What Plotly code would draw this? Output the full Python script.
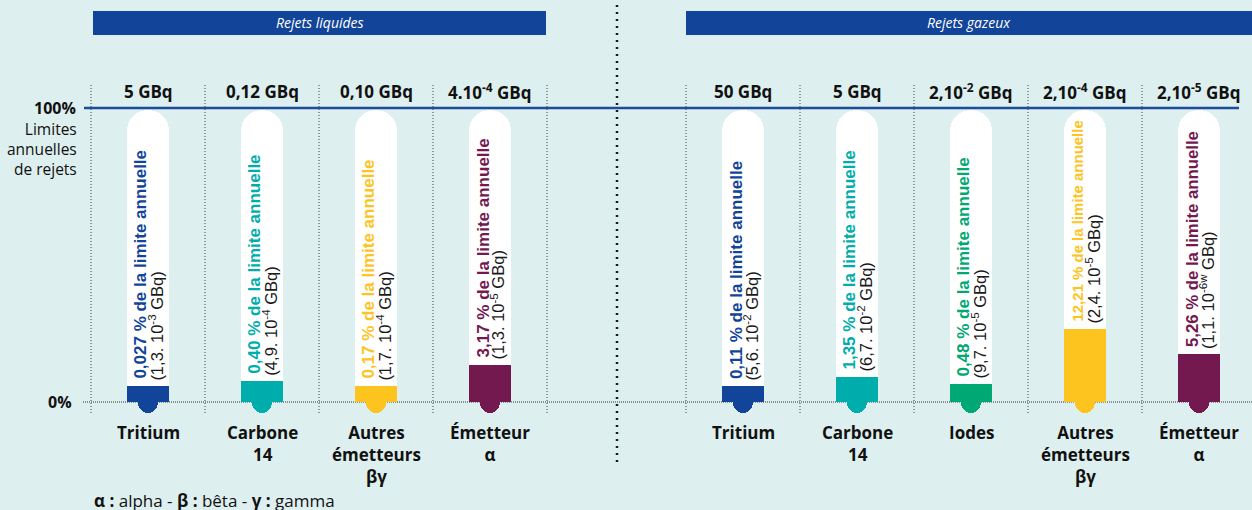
import plotly.graph_objects as go

# ---------------- data ----------------
liq_categories = ["Tritium", "Carbone<br>14", "Autres<br>émetteurs<br>βγ", "Émetteur<br>α"]
liq_limits = ["5 GBq", "0,12 GBq", "0,10 GBq", "4.10<sup>-4</sup> GBq"]
liq_percent = ["0,027", "0,40", "0,17", "3,17"]
liq_amount = ["1,3. 10<sup>-3</sup>", "4,9. 10<sup>-4</sup>", "1,7. 10<sup>-4</sup>", "1,3. 10<sup>-5</sup>"]
liq_fill = [5.4, 7.1, 5.4, 12.6]          # visual gauge level (% of the 0-100 scale)
liq_colors = ["#12449a", "#00adad", "#fdc41f", "#741850"]

gas_categories = ["Tritium", "Carbone<br>14", "Iodes", "Autres<br>émetteurs<br>βγ", "Émetteur<br>α"]
gas_limits = ["50 GBq", "5 GBq", "2,10<sup>-2</sup> GBq", "2,10<sup>-4</sup> GBq", "2,10<sup>-5</sup> GBq"]
gas_percent = ["0,11", "1,35", "0,48", "12,21", "5,26"]
gas_amount = ["5,6. 10<sup>-2</sup>", "6,7. 10<sup>-2</sup>", "9,7. 10<sup>-5</sup>",
              "2,4. 10<sup>-5</sup>", "1,1. 10<sup>-6w</sup>"]
gas_fill = [5.4, 8.5, 6.1, 24.8, 16.3]
gas_colors = ["#12449a", "#00adad", "#00a873", "#fdc41f", "#741850"]

group_titles = ["Rejets liquides", "Rejets gazeux"]
left_caption = ["Limites", "annuelles", "de rejets"]

# ---------------- layout geometry ----------------
W, H = 1252, 510
Y0_PX, Y100_PX = 402, 108
SCALE = (Y0_PX - Y100_PX) / 100.0
Y_RANGE = [(Y0_PX - H) / SCALE, Y0_PX / SCALE]
COL_W = 114
LIQ_X0, GAS_X0 = 91, 686
TUBE_W, STUB_W = 42, 20
TUBE_LEVEL = 99.3
STUB_LEVEL = -11 / SCALE
TEXT_GAP = 5            # px between fill top and rotated text
TEXT_TOP_PX = 116       # rotated text must stay below this
BOLD_MAX = 17
BOLD_PX_PER_SIZE = 13.9  # rendered length / font size for the bold label
BG = "#ddefee"
LABEL_FONT = "'Open Sans', Lato, sans-serif"
TUBE_FONT = "'Liberation Sans', Arial, sans-serif"
INK = "#111111"


def py(p):
    return 1 - p / H


liq_x = [LIQ_X0 + COL_W * (i + 0.5) for i in range(len(liq_categories))]
gas_x = [GAS_X0 + COL_W * (i + 0.5) for i in range(len(gas_categories))]

xs = liq_x + gas_x
fills = liq_fill + gas_fill
colors = liq_colors + gas_colors
cats = liq_categories + gas_categories
limits = liq_limits + gas_limits
pcts = liq_percent + gas_percent
amts = liq_amount + gas_amount
n = len(xs)

fig = go.Figure()
fig.add_bar(x=xs, y=[TUBE_LEVEL] * n, width=TUBE_W, hoverinfo="skip",
            marker=dict(color="white", cornerradius=TUBE_W / 2, line_width=0))
fig.add_bar(x=xs, y=fills, width=TUBE_W, hoverinfo="skip",
            marker=dict(color=colors, line_width=0))
fig.add_bar(x=xs, y=[STUB_LEVEL] * n, width=STUB_W, hoverinfo="skip",
            marker=dict(color=colors, cornerradius=STUB_W / 2, line_width=0))

ann = []
shapes = []

for i in range(n):
    x = xs[i]
    bottom_px = Y0_PX - fills[i] * SCALE - TEXT_GAP
    bold_size = min(BOLD_MAX, (bottom_px - TEXT_TOP_PX) / BOLD_PX_PER_SIZE)
    ann.append(dict(x=x - 7, y=fills[i], xref="x", yref="y", yshift=TEXT_GAP, showarrow=False,
                    textangle=-90, xanchor="center", yanchor="bottom",
                    text=f"<b>{pcts[i]} % de la limite annuelle</b>",
                    font=dict(family=TUBE_FONT, size=bold_size, color=colors[i])))
    ann.append(dict(x=x + 8, y=fills[i], xref="x", yref="y", yshift=TEXT_GAP - 2, showarrow=False,
                    textangle=-90, xanchor="center", yanchor="bottom",
                    text=f"({amts[i]} GBq)",
                    font=dict(family=TUBE_FONT, size=16.5, color="#1a1a1a")))
    ann.append(dict(x=x, y=py(91), xref="x", yref="paper", showarrow=False,
                    xanchor="center", yanchor="middle", text=f"<b>{limits[i]}</b>",
                    font=dict(family=LABEL_FONT, size=17, color=INK)))
    ann.append(dict(x=x, y=py(419), xref="x", yref="paper", showarrow=False,
                    xanchor="center", yanchor="top", align="center", text=f"<b>{cats[i]}</b>",
                    font=dict(family=LABEL_FONT, size=17, color=INK)))

# group headers
for x0, x1, title in [(93, 546, group_titles[0]), (686, W, group_titles[1])]:
    shapes.append(dict(type="rect", xref="x", yref="paper", x0=x0, x1=x1,
                       y0=py(35), y1=py(11), fillcolor="#12449a", line_width=0, layer="below"))
    ann.append(dict(x=(x0 + x1) / 2, y=py(23), xref="x", yref="paper", showarrow=False,
                    xanchor="center", yanchor="middle", text=f"<i>{title}</i>",
                    font=dict(family=LABEL_FONT, size=14, color="white")))

# column dividers
dividers = [LIQ_X0 + COL_W * k for k in range(len(liq_categories) + 1)] + \
           [GAS_X0 + COL_W * k for k in range(len(gas_categories))]
for xd in dividers:
    shapes.append(dict(type="line", xref="x", yref="paper", x0=xd, x1=xd, y0=py(413), y1=py(83),
                       line=dict(color="#444444", width=1, dash="1px,2px"), layer="below"))

# group separator
shapes.append(dict(type="line", xref="x", yref="paper", x0=617, x1=617, y0=py(462), y1=1,
                   line=dict(color="#1a1a1a", width=2.5, dash="2px,5px")))

# 100% and 0% lines
shapes.append(dict(type="line", xref="x", yref="y", x0=84, x1=1239, y0=100, y1=100,
                   line=dict(color="#1d4c9c", width=2.5)))
shapes.append(dict(type="line", xref="x", yref="y", x0=83, x1=W, y0=0, y1=0,
                   line=dict(color="#333333", width=1, dash="1px,1px"), layer="below"))

# left labels
ann.append(dict(x=78, y=100, xref="x", yref="y", showarrow=False, xanchor="right", yanchor="middle",
                text="<b>100%</b>", font=dict(family=LABEL_FONT, size=16, color=INK)))
ann.append(dict(x=79, y=py(149), xref="x", yref="paper", showarrow=False,
                xanchor="right", yanchor="middle", align="right", text="<br>".join(left_caption),
                font=dict(family=LABEL_FONT, size=15.5, color=INK)))
ann.append(dict(x=74, y=0, xref="x", yref="y", showarrow=False, xanchor="right", yanchor="middle",
                text="<b>0%</b>", font=dict(family=LABEL_FONT, size=16, color=INK)))

# footnote
ann.append(dict(x=92, y=py(500), xref="x", yref="paper", showarrow=False, xanchor="left",
                yanchor="middle",
                text="<b>α :</b> alpha - <b>β :</b> bêta - <b>γ :</b> gamma",
                font=dict(family=LABEL_FONT, size=17, color=INK)))

fig.update_layout(
    width=W, height=H, autosize=False,
    margin=dict(l=0, r=0, t=0, b=0),
    paper_bgcolor=BG, plot_bgcolor=BG,
    barmode="overlay", bargap=0, showlegend=False,
    xaxis=dict(range=[0, W], visible=False, fixedrange=True),
    yaxis=dict(range=Y_RANGE, visible=False, fixedrange=True),
    annotations=ann, shapes=shapes,
)

fig.write_html("out.html")
